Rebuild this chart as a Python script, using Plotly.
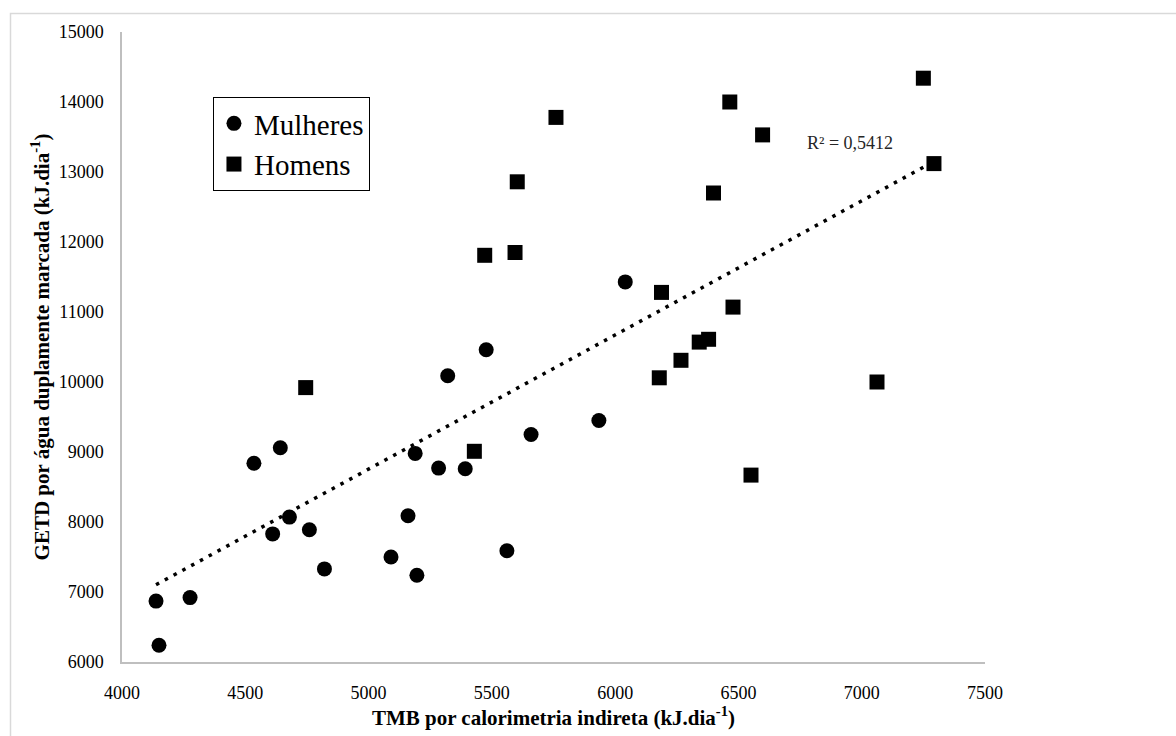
import numpy as np
import plotly.graph_objects as go

# Mulheres (women)
mulheres_tmb = [4138, 4276, 4150, 4535, 4642, 4679, 4611, 4760, 4821, 5091, 5160,
                5196, 5189, 5284, 5392, 5321, 5477, 5561, 5659, 6041, 5934]
mulheres_getd = [6870, 6920, 6240, 8840, 9060, 8070, 7830, 7890, 7330, 7500, 8090,
                 7240, 8980, 8770, 8760, 10090, 10460, 7590, 9250, 11430, 9450]

# Homens (men)
homens_tmb = [4745, 5429, 5603, 5471, 5594, 6399, 6188, 6478, 6341, 6379, 6267,
              6179, 6551, 7250, 6465, 6598, 7293, 7062, 5760]
homens_getd = [9920, 9010, 12860, 11810, 11850, 12700, 11280, 11070, 10570, 10610, 10310,
               10060, 8670, 14340, 14000, 13530, 13120, 10000, 13780]

r2_label = "R² = 0,5412"
x_title = "TMB por calorimetria indireta (kJ.dia<sup>-1</sup>)"
y_title = "GETD por água duplamente marcada (kJ.dia<sup>-1</sup>)"

FONT = "Times New Roman, Liberation Serif, serif"

all_x = np.array(mulheres_tmb + homens_tmb, dtype=float)
all_y = np.array(mulheres_getd + homens_getd, dtype=float)
slope, intercept = np.polyfit(all_x, all_y, 1)
line_x = np.array([all_x.min(), all_x.max()])
line_y = slope * line_x + intercept

fig = go.Figure()
fig.add_trace(go.Scatter(
    x=line_x, y=line_y, mode="lines", showlegend=False,
    line=dict(color="black", width=3.5, dash="3.5px,6.5px"), hoverinfo="skip"))
fig.add_trace(go.Scatter(
    x=mulheres_tmb, y=mulheres_getd, mode="markers", name="Mulheres",
    marker=dict(symbol="circle", size=15, color="black")))
fig.add_trace(go.Scatter(
    x=homens_tmb, y=homens_getd, mode="markers", name="Homens",
    marker=dict(symbol="square", size=15, color="black")))

fig.add_annotation(x=6952, y=13414, text=r2_label, showarrow=False,
                   font=dict(family=FONT, size=18, color="#262626"))

# outer chart frame
fig.add_shape(type="rect", xref="paper", yref="paper",
              x0=-0.1292, x1=1.4, y0=-0.2, y1=1.0294,
              line=dict(color="#d9d9d9", width=1.5), layer="below")

fig.update_layout(
    width=1176, height=736,
    margin=dict(l=122, r=191, t=32, b=74),
    paper_bgcolor="white", plot_bgcolor="white",
    font=dict(family=FONT, color="black"),
    showlegend=True,
    legend=dict(x=0.1054, y=0.8968, xanchor="left", yanchor="top",
                bordercolor="black", borderwidth=1, bgcolor="white",
                font=dict(family=FONT, size=29, color="black"),
                tracegroupgap=0, itemsizing="trace"),
    xaxis=dict(range=[4000, 7500], dtick=500, tick0=4000, tickformat="d",
               showline=True, linecolor="#bfbfbf", linewidth=1.5,
               showgrid=False, zeroline=False, ticks="",
               ticklabelstandoff=14,
               tickfont=dict(family=FONT, size=18, color="black"),
               title=dict(text=x_title, standoff=4,
                          font=dict(family=FONT, size=21, color="black", weight="bold"))),
    yaxis=dict(range=[6000, 15000], dtick=1000, tick0=6000, tickformat="d",
               showline=True, linecolor="#bfbfbf", linewidth=1.5,
               showgrid=False, zeroline=False, ticks="",
               ticklabelstandoff=13,
               tickfont=dict(family=FONT, size=18, color="black"),
               title=dict(text=y_title, standoff=3,
                          font=dict(family=FONT, size=21, color="black", weight="bold"))),
)

fig.write_html("out.html")
